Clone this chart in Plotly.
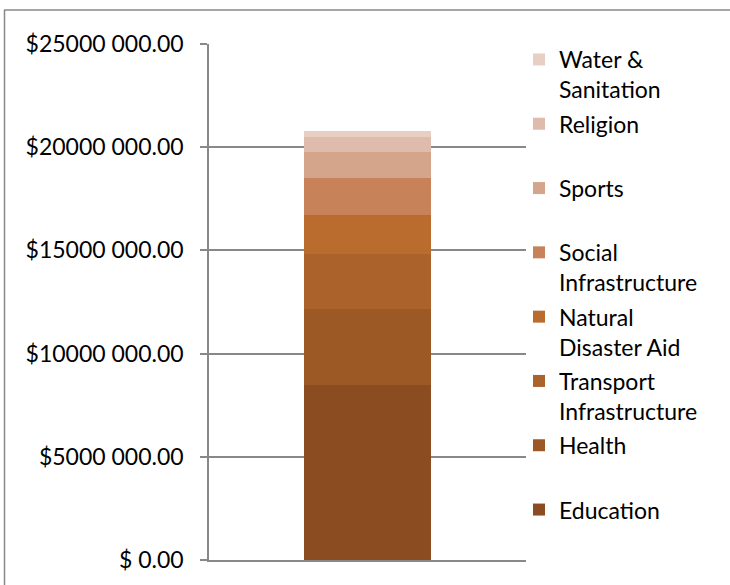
import plotly.graph_objects as go

categories = ["Education", "Health", "Transport<br>Infrastructure", "Natural<br>Disaster Aid",
              "Social<br>Infrastructure", "Sports", "Religion", "Water &<br>Sanitation"]
values = [8460000, 3720000, 2670000, 1850000, 1800000, 1260000, 730000, 290000]
colors = ["#8B4C22", "#9C5926", "#AB622B", "#BA6B2E", "#C8825A", "#D4A48B", "#DEBBAC", "#E8CFC4"]
tick_vals = [0, 5000000, 10000000, 15000000, 20000000, 25000000]
tick_text = ["$ 0.00", "$5000 000.00", "$10000 000.00", "$15000 000.00", "$20000 000.00", "$25000 000.00"]

FONT = "Lato"
FS = 23
fig = go.Figure()
n = len(categories)
for i, (name, v, c) in enumerate(zip(categories, values, colors)):
    label = name if "<br>" in name else name + "<br>\u00a0"
    fig.add_trace(go.Bar(x=[0], y=[v], name=label, legendgroup="g%d" % i,
                         legendrank=n - i,
                         marker=dict(color=c, line=dict(width=0))))

W, H = 730, 585
L, R, T, B = 209, 526, 44, 560
def px(x):
    return (x - L) / (R - L)
def py(y):
    return (B - y) / (B - T)

fig.update_layout(
    width=W, height=H,
    margin=dict(l=L, r=W - R, t=T, b=H - B),
    barmode="stack", bargap=0.6,
    paper_bgcolor="white", plot_bgcolor="white",
    font=dict(family=FONT, size=FS, color="black"),
    xaxis=dict(showticklabels=False, showgrid=False, zeroline=False, range=[-0.5, 0.5],
               showline=True, linecolor="#888888", linewidth=1.5, ticks=""),
    yaxis=dict(range=[0, 25000000], tickvals=tick_vals, ticktext=tick_text,
               showgrid=True, gridcolor="#888888", gridwidth=1.5, zeroline=False,
               showline=True, linecolor="#888888", linewidth=1.5,
               ticks="outside", ticklen=7, tickcolor="#888888", tickwidth=1.5,
               ticklabelstandoff=12, tickfont=dict(family=FONT, size=FS)),
    legend=dict(x=px(519), xanchor="left", y=py(38), yanchor="top",
                traceorder="grouped", valign="top", maxheight=560,
                font=dict(family=FONT, size=FS), tracegroupgap=1.5, bgcolor="rgba(0,0,0,0)"),
    showlegend=True,
    shapes=[
        dict(type="line", xref="paper", yref="paper", x0=px(4), x1=px(735), y0=py(10), y1=py(10),
             line=dict(color="#888888", width=1.5)),
        dict(type="line", xref="paper", yref="paper", x0=px(4.5), x1=px(4.5), y0=py(10), y1=py(600),
             line=dict(color="#888888", width=1.5)),
    ],
)

fig.write_html("out.html")
